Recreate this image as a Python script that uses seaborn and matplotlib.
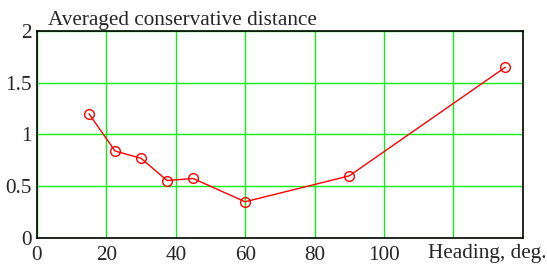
import matplotlib
matplotlib.use("Agg")
import matplotlib.pyplot as plt
import seaborn as sns
import pandas as pd

heading = [15, 22.5, 30, 37.5, 45, 60, 90, 135]
distance = [1.2, 0.84, 0.77, 0.555, 0.575, 0.35, 0.60, 1.65]
x_ticks = [0, 20, 40, 60, 80, 100, 120, 140]
x_labels = ["0", "20", "40", "60", "80", "100", "", ""]
y_ticks = [0, 0.5, 1, 1.5, 2]
y_labels = ["0", "0.5", "1", "1.5", "2"]

sns.set_style("white")
plt.rcParams['font.family'] = ['Liberation Serif', 'DejaVu Serif']

df = pd.DataFrame({"heading": heading, "distance": distance})

fs = 15.3
fig = plt.figure(figsize=(5.47, 2.65), dpi=100)
ax = fig.add_axes([0.0676, 0.102, 0.888, 0.781])
sns.lineplot(data=df, x="heading", y="distance", ax=ax, color="#ff0000",
             marker="o", markersize=7, markerfacecolor="none",
             markeredgecolor="#ff0000", markeredgewidth=1.0, linewidth=1.0,
             zorder=3)
ax.set_xlim(0, 140)
ax.set_ylim(0, 2)
ax.set_xticks(x_ticks)
ax.set_xticklabels(x_labels, fontsize=fs)
ax.set_yticks(y_ticks)
ax.set_yticklabels(y_labels, fontsize=fs)
ax.tick_params(axis="x", length=0, pad=6)
ax.tick_params(axis="y", length=0, pad=4)
ax.grid(True, color="#11ee11", linewidth=1.0)
for s in ax.spines.values():
    s.set_color("black")
    s.set_linewidth(1.2)
ax.set_ylabel("")
ax.set_xlabel("Heading, deg.", fontsize=fs, ha="left")
ax.xaxis.set_label_coords(0.805, -0.03)
ax.xaxis.label.set_va("top")
ax.set_title("Averaged conservative distance", fontsize=fs, loc="left",
             x=0.022, pad=4)
fig.savefig("out.png", dpi=100)
